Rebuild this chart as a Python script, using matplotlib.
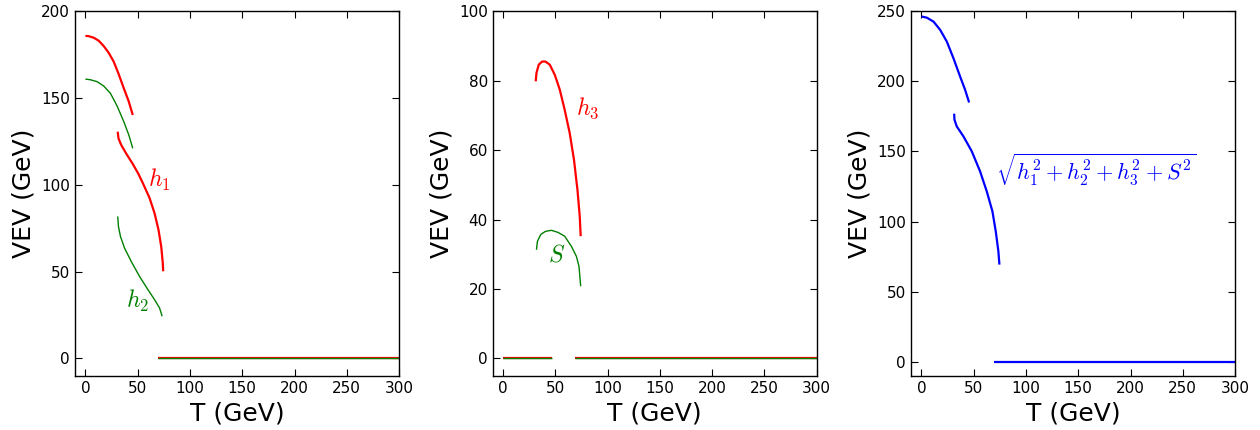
import matplotlib
matplotlib.use("Agg")
import matplotlib.pyplot as plt

plt.rcParams.update({
    "font.family": "DejaVu Sans",
    "mathtext.fontset": "cm",
    "xtick.direction": "in",
    "ytick.direction": "in",
    "xtick.top": True,
    "ytick.right": True,
    "xtick.major.size": 5,
    "ytick.major.size": 5,
    "xtick.labelsize": 11,
    "ytick.labelsize": 11,
    "axes.labelsize": 18,
    "axes.linewidth": 1.0,
    "lines.solid_capstyle": "butt",
})

RED = "red"
GREEN = "green"
BLUE = "blue"

# broken phase I (low T): h1, h2 nonzero, h3 = S = 0
T_h1a = [0, 3.2, 8.0, 12.7, 17.5, 22.3, 27.1, 31.9, 36.7, 41.5, 45.3]
h1_a = [185.8, 185.6, 184.7, 183.0, 179.9, 176.0, 170.9, 163.6, 155.6, 147.9, 140.2]
T_h2a = [0, 4.8, 11.2, 17.5, 23.9, 30.3, 36.7, 41.5, 45.3]
h2_a = [160.9, 160.5, 159.4, 156.9, 152.7, 145.4, 136.4, 128.7, 121.0]

# broken phase II: all four fields nonzero
T_h1b = [30.9, 31.6, 34.2, 39.0, 45.3, 50.5, 54.9, 61.3, 66.1, 69.9, 72.5, 74.0, 74.4]
h1_b = [130.6, 126.8, 123.0, 118.0, 112.0, 106.5, 101.0, 92.5, 83.7, 74.1, 64.5, 55.0, 50.2]
T_h2b = [30.9, 31.6, 33.5, 37.4, 43.8, 51.7, 59.7, 66.1, 70.9, 73.4]
h2_b = [81.8, 76.0, 70.3, 63.6, 55.9, 47.3, 39.7, 33.9, 29.1, 24.3]

T_h3 = [31.2, 31.9, 34.1, 37.3, 40.5, 44.6, 49.4, 54.2, 58.9, 63.7, 67.8,
        71.1, 73.3, 74.2]
h3_b = [79.8, 82.2, 84.6, 85.5, 85.5, 84.6, 81.7, 77.4, 71.6, 64.9, 57.2,
        48.6, 40.9, 35.2]
T_S = [31.9, 32.8, 36.0, 40.5, 46.2, 52.5, 58.9, 65.3, 70.1, 72.6, 74.2]
S_b = [31.3, 33.7, 35.7, 36.6, 36.9, 36.3, 35.2, 32.3, 29.4, 26.5, 20.8]

# total vev in each phase
T_tot1 = [0, 5.1, 11.5, 17.9, 24.3, 30.6, 37.0, 41.8, 45.6]
v_tot1 = [246.2, 245.4, 242.6, 236.7, 228.3, 216.5, 203.4, 193.9, 184.9]
T_tot2 = [31.3, 31.6, 33.8, 40.2, 48.2, 56.1, 62.5, 67.9, 71.1, 73.6, 74.6]
v_tot2 = [176.9, 172.6, 167.8, 160.7, 150.0, 135.8, 121.5, 107.3, 93.0, 78.8, 69.3]

# symmetric phase, and the h3 = S = 0 branch at low T
T_sym = [69, 300]
zero_sym = [0, 0]
T_zero1 = [0, 46.5]
zero1 = [0, 0]

fig = plt.figure(figsize=(12.6, 4.3), dpi=100)
lefts = [0.0595, 0.391, 0.723]
axes = [fig.add_axes([l, 0.126, 0.2572, 0.848]) for l in lefts]
ax1, ax2, ax3 = axes

# left: h1 and h2
for t, v in [(T_h1a, h1_a), (T_h1b, h1_b), (T_sym, zero_sym)]:
    ax1.plot(t, v, color=RED, lw=1.6)
for t, v in [(T_h2a, h2_a), (T_h2b, h2_b), (T_sym, zero_sym)]:
    ax1.plot(t, v, color=GREEN, lw=1.0)
ax1.text(60, 103, r"$h_1$", color=RED, fontsize=17, ha="left", va="center")
ax1.text(39, 33, r"$h_2$", color=GREEN, fontsize=17, ha="left", va="center")
ax1.set_ylim(-10, 200)
ax1.set_yticks(range(0, 201, 50))

# middle: h3 and S
for t, v in [(T_h3, h3_b), (T_zero1, zero1), (T_sym, zero_sym)]:
    ax2.plot(t, v, color=RED, lw=1.6)
for t, v in [(T_S, S_b), (T_zero1, zero1), (T_sym, zero_sym)]:
    ax2.plot(t, v, color=GREEN, lw=1.0)
ax2.text(70, 72, r"$h_3$", color=RED, fontsize=17, ha="left", va="center")
ax2.text(43, 30, r"$S$", color=GREEN, fontsize=17, ha="left", va="center")
ax2.set_ylim(-5, 100)
ax2.set_yticks(range(0, 101, 20))

# right: total vev
for t, v in [(T_tot1, v_tot1), (T_tot2, v_tot2), (T_sym, zero_sym)]:
    ax3.plot(t, v, color=BLUE, lw=1.6)
ax3.text(71, 137, r"$\sqrt{h_1^2+h_2^2+h_3^2+S^2}$", color=BLUE, fontsize=16,
         ha="left", va="center")
ax3.set_ylim(-10, 250)
ax3.set_yticks(range(0, 251, 50))

for ax in axes:
    ax.set_xlim(-10, 300)
    ax.set_xticks(range(0, 301, 50))
    ax.set_xlabel("T (GeV)")
    ax.set_ylabel("VEV (GeV)")

fig.savefig("out.png", dpi=100, facecolor="white")
